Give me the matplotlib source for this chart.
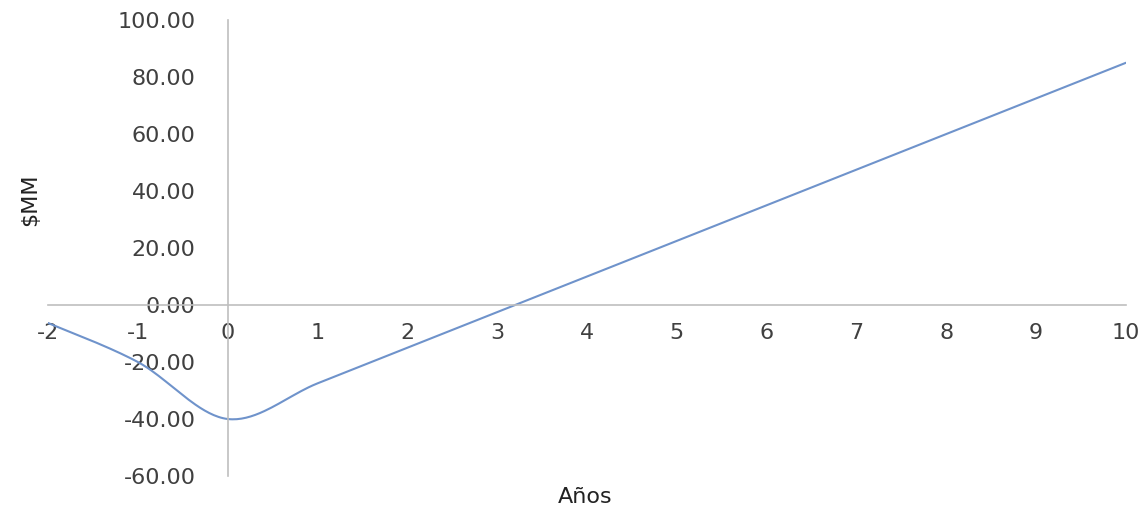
import numpy as np
import matplotlib.pyplot as plt

# flujo acumulado por año
anios = [-2, -1, 0, 1, 2, 3, 4, 5, 6, 7, 8, 9, 10]
valores = [-6.3, -20.0, -40.0, -27.5, -15.0, -2.5, 10.0, 22.5, 35.0, 47.5, 60.0, 72.5, 85.0]

yticks = [-60, -40, -20, 0, 20, 40, 60, 80, 100]
xticks = list(range(-2, 11))


def suavizar(x, y, n=40):
    # curva tipo Catmull-Rom con segmentos Bezier cubicos
    x = np.asarray(x, float)
    y = np.asarray(y, float)
    px = np.concatenate([[x[0]], x, [x[-1]]])
    py = np.concatenate([[y[0]], y, [y[-1]]])
    t = np.linspace(0, 1, n)[:, None]
    xs, ys = [], []
    for i in range(1, len(px) - 2):
        p0 = np.array([px[i], py[i]])
        p3 = np.array([px[i + 1], py[i + 1]])
        c1 = p0 + (p3 - np.array([px[i - 1], py[i - 1]])) / 6
        c2 = p3 - (np.array([px[i + 2], py[i + 2]]) - p0) / 6
        b = ((1 - t) ** 3) * p0 + 3 * ((1 - t) ** 2) * t * c1 + 3 * (1 - t) * t ** 2 * c2 + t ** 3 * p3
        xs.append(b[:, 0])
        ys.append(b[:, 1])
    return np.concatenate(xs), np.concatenate(ys)


gris = '#BFBFBF'
texto = '#404040'

fig = plt.figure(figsize=(11.45, 5.09), dpi=100)
ax = fig.add_axes([48 / 1145, 33 / 509, 1078 / 1145, 456 / 509])

sx, sy = suavizar(anios, valores)
ax.plot(sx, sy, color='#6F93CB', linewidth=1.5, solid_capstyle='round')

ax.set_xlim(-2, 10)
ax.set_ylim(-60, 100)
ax.spines['left'].set_position(('data', 0))
ax.spines['bottom'].set_position(('data', 0))
ax.spines['top'].set_visible(False)
ax.spines['right'].set_visible(False)
for s in ('left', 'bottom'):
    ax.spines[s].set_color(gris)
    ax.spines[s].set_linewidth(1.2)

ax.set_xticks(xticks)
ax.set_xticklabels([str(v) for v in xticks])
ax.set_yticks(yticks)
ax.set_yticklabels([f'{v:.2f}' for v in yticks])
ax.tick_params(axis='x', length=0, pad=13, labelsize=16, labelcolor=texto)
ax.tick_params(axis='y', length=0, pad=23, labelsize=16, labelcolor=texto)

fig.text(30 / 1145, 1 - 200 / 509, '$MM', rotation=90, ha='center', va='center',
         fontsize=16, color='#222222')
fig.text(585 / 1145, 1 - 497 / 509, 'Años', ha='center', va='center',
         fontsize=16, color='#222222')

fig.savefig('out.png', dpi=100)
